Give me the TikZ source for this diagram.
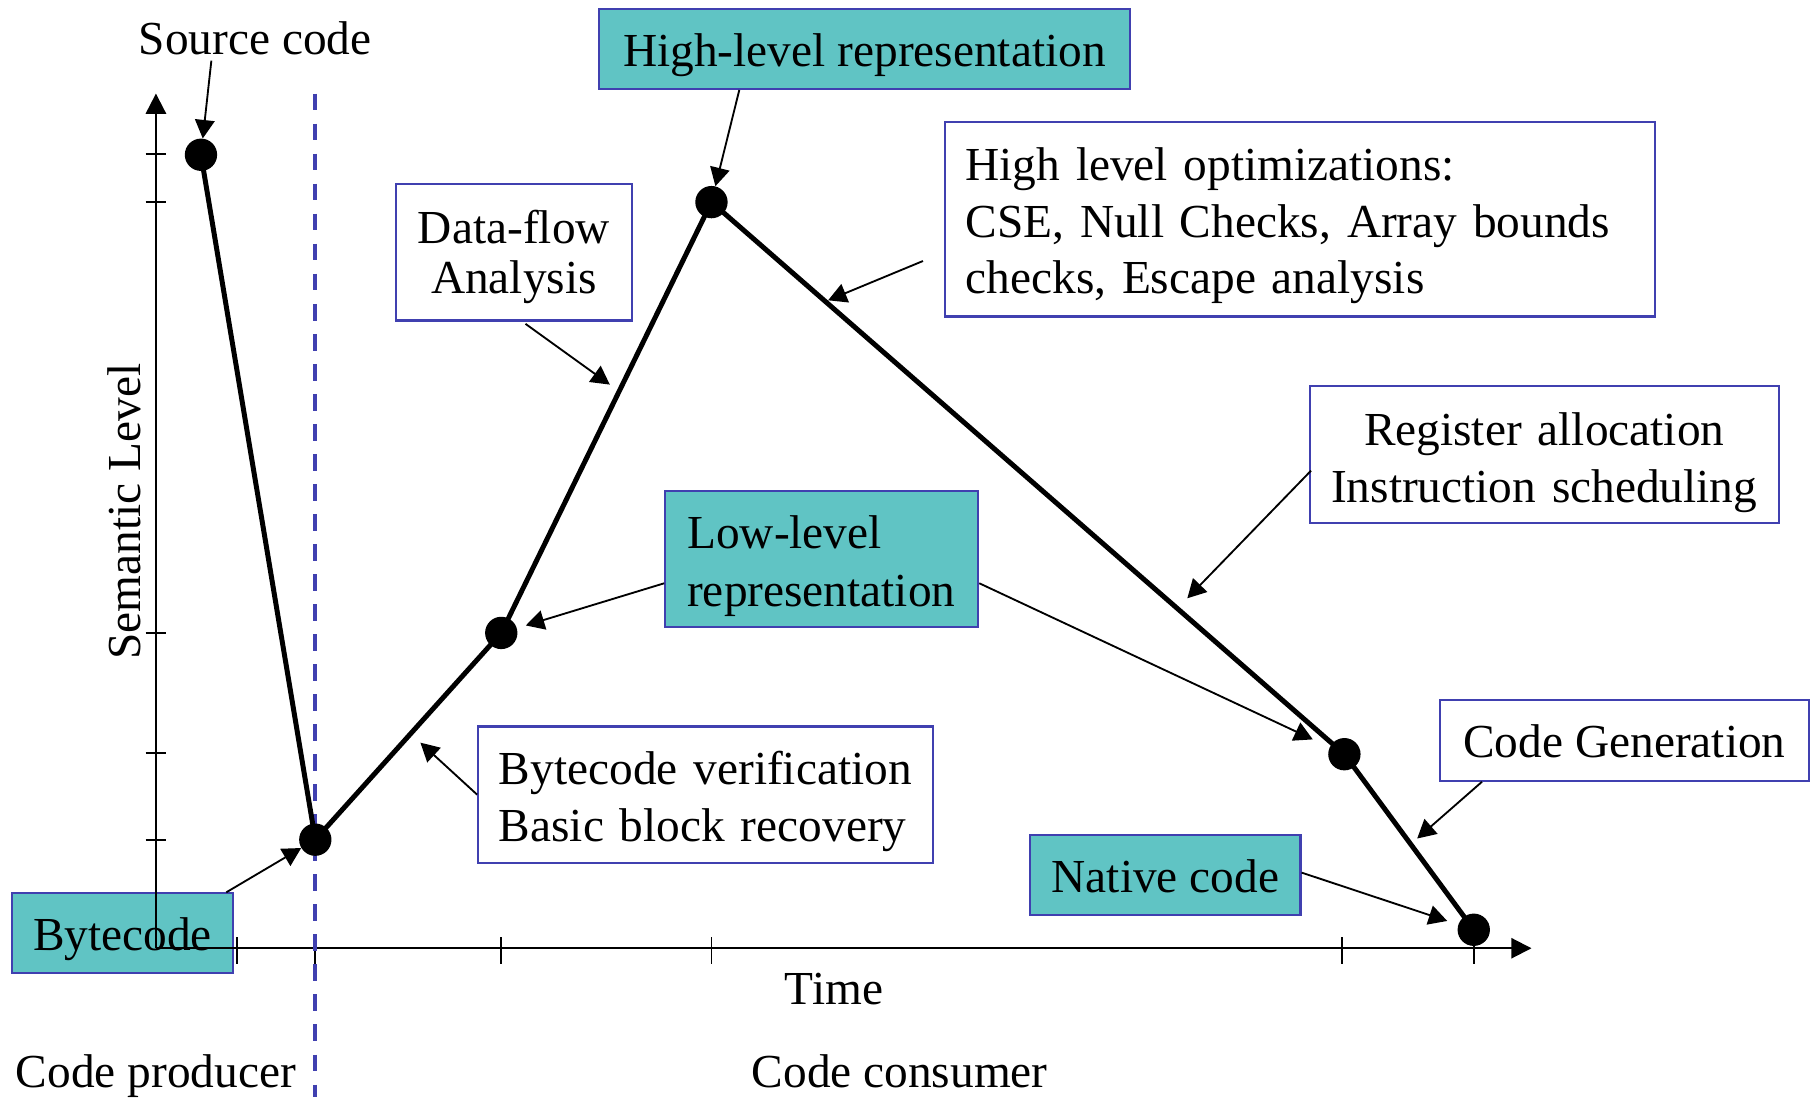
\documentclass[tikz,border=0pt]{standalone}
\usepackage{fontspec}
\setmainfont{Liberation Serif}
\usetikzlibrary{arrows.meta,calc}
\definecolor{boxblue}{RGB}{64,64,176}
\definecolor{tealfill}{RGB}{96,196,196}
\newcommand\lowr[2]{\raisebox{-#1}[\height][\depth]{#2}}
\begin{document}
\begin{tikzpicture}[x=1pt,y=-1pt,
  every node/.style={font=\fontsize{41}{49}\selectfont},
  one/.style={text height=30pt,text depth=0pt},
  frame/.style={draw=boxblue,line width=1.8pt,inner sep=0pt,fill=white},
  tealbox/.style={frame,fill=tealfill},
  dot/.style={circle,fill=black,minimum size=28pt,inner sep=0pt},
  arr/.style={line width=1.6pt,-{Triangle[length=16pt,width=17pt]}},
  axis/.style={line width=1.8pt},
  tick/.style={line width=1.6pt},
  curve/.style={line width=4.3pt,line join=round}]
\useasboundingbox (0,0) rectangle (1568,950);

% boxes
\node[tealbox,one,minimum width=192pt,minimum height=69pt] (bc) at (106,808) {Bytecode};
\node[tealbox,one,minimum width=459pt,minimum height=69pt] (hr) at (748.5,42.5) {High-level representation};
\node[tealbox,minimum width=271pt,minimum height=118pt,text width=233pt,align=left,font=\fontsize{41}{50}\selectfont] (lr) at (711.5,484) {\lowr{6pt}{Low-level}\\\lowr{6pt}{representation}};
\node[tealbox,one,minimum width=234pt,minimum height=69pt] (nc) at (1009,757.5) {Native code};
\node[frame,minimum width=204pt,minimum height=118pt,text width=204pt,align=center,font=\fontsize{41}{43}\selectfont] (df) at (445,218.5) {\lowr{4pt}{Data-flow}\\\lowr{4pt}{Analysis}};
\node[frame,minimum width=615pt,minimum height=168pt,text width=579pt,align=left] (hlo) at (1125.5,190) {\lowr{5.5pt}{High level optimizations:}\\\lowr{5.5pt}{CSE, Null Checks, Array bounds}\\\lowr{5.5pt}{checks, Escape analysis}};
\node[frame,minimum width=406pt,minimum height=119pt,text width=406pt,align=center] (reg) at (1337,393.5) {\lowr{7pt}{Register allocation}\\\lowr{7pt}{Instruction scheduling}};
\node[frame,one,minimum width=319pt,minimum height=70pt] (cg) at (1406.5,641) {Code Generation};
\node[frame,minimum width=394pt,minimum height=118pt,text width=358pt,align=left] (bv) at (611,688) {\lowr{6pt}{Bytecode verification}\\\lowr{6pt}{Basic block recovery}};

% axes
\coordinate (O) at (135,821);
\coordinate (ytop) at (135,81);
\coordinate (xend) at (1326,821);
\draw[axis,-{Triangle[length=17.5pt,width=17.5pt]}] (O) -- (ytop);
\draw[axis,-{Triangle[length=17.5pt,width=17.5pt]}] (O) -- (xend);
\foreach \y in {133,175,548,652,727} \draw[tick] (126,\y) -- (144,\y);
\foreach \x in {205,273,434,616,1162,1276} \draw[tick] (\x,811.5) -- (\x,834.5);

% divider
\coordinate (dtop) at (273,81);
\coordinate (dbot) at (273,950);
\draw[boxblue,line width=3.5pt,dash pattern=on 14.5pt off 11.5pt] (dtop) -- (dbot);

% labels
\node[one] (sc) at (221,32) {Source code};
\node[one] (time) at (722,855) {Time};
\node[one] (prod) at (135,926.5) {Code producer};
\node[one] (cons) at (779,926.5) {Code consumer};
\node[rotate=90] (sem) at (108,443) {Semantic Level};

% curve and dots
\node[dot] (p1) at (174,134) {};
\node[dot] (p2) at (273,727) {};
\node[dot] (p3) at (434,548) {};
\node[dot] (p4) at (616,175) {};
\node[dot] (p5) at (1164,653) {};
\node[dot] (p6) at (1276,805) {};
\draw[curve] (p1.center) -- (p2.center) -- (p3.center) -- (p4.center) -- (p5.center) -- (p6.center);

% arrow tips on the curve
\coordinate (tdf) at (528,333);
\coordinate (thlo) at (717,260);
\coordinate (treg) at (1028,518);
\coordinate (tbv) at (364,643);
\coordinate (tcg) at (1227,726);

% arrows
\draw[arr] ($(sc.south)+(-38,2)$) -- (p1);
\draw[arr] ($(bc.north east)+(-7,0)$) -- (p2);
\draw[arr] ($(hr.south west)+(122,0)$) -- (p4);
\draw[arr] ($(df.south)+(10,2)$) -- (tdf);
\draw[arr] ($(hlo.west)+(-18,36)$) -- (thlo);
\draw[arr] ($(reg.west)+(2,14)$) -- (treg);
\draw[arr,shorten >=8pt] ($(lr.west)+(0,21)$) -- (p3);
\draw[arr,shorten >=16pt] ($(lr.east)+(0,21)$) -- (p5);
\draw[arr] (bv.west) -- (tbv);
\draw[arr] ($(cg.south west)+(37,0)$) -- (tcg);
\draw[arr,shorten >=10pt] ($(nc.east)+(0,-2)$) -- (p6);
\end{tikzpicture}
\end{document}
